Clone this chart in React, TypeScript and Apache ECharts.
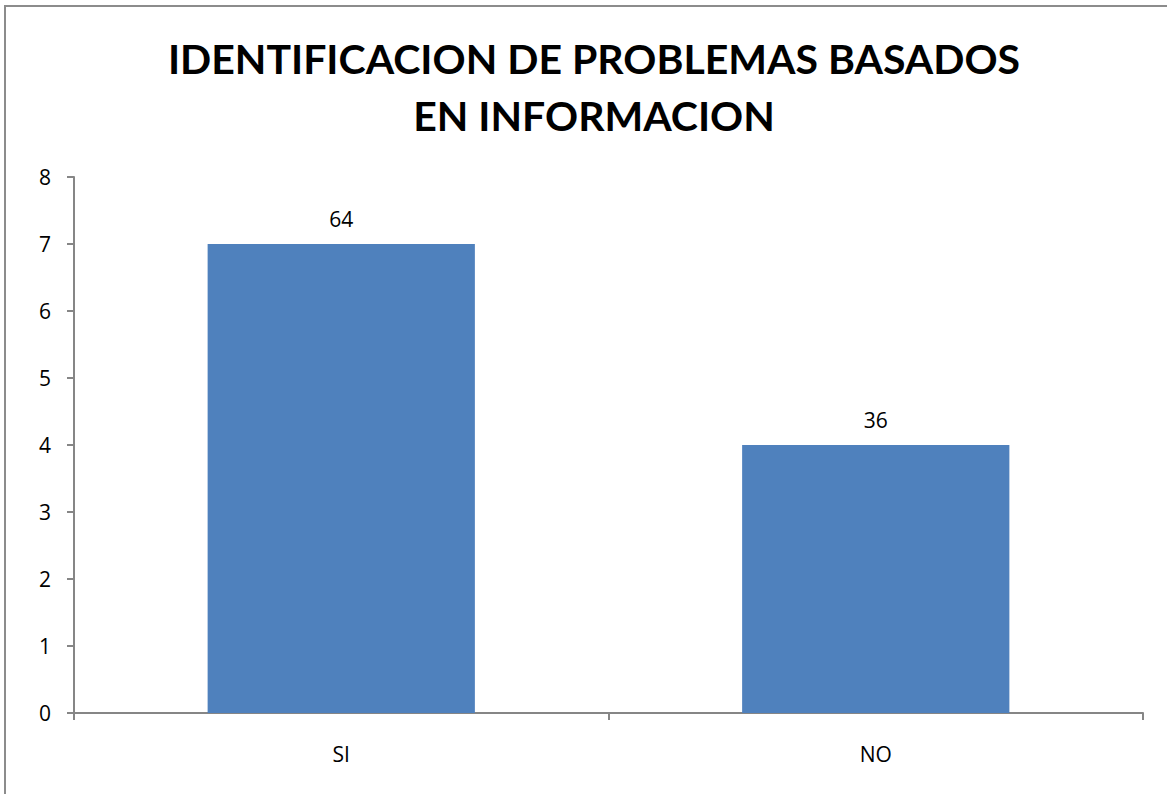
import React, { useEffect, useRef } from "react";
import * as echarts from "echarts";

const categories = ["SI", "NO"];
const counts = [7, 4];
const percents = ["64", "36"];
const yTicks = [0, 1, 2, 3, 4, 5, 6, 7, 8];
const titleLines = ["IDENTIFICACION DE PROBLEMAS BASADOS", "EN INFORMACION"];

export default function App() {
  const ref = useRef<HTMLDivElement>(null);
  useEffect(() => {
    const chart = echarts.init(ref.current!, undefined, { renderer: "svg" });
    chart.setOption({
      animation: false,
      backgroundColor: "#ffffff",
      title: {
        text: titleLines.join("\n"),
        left: 589,
        textAlign: "center",
        top: 25,
        textStyle: {
          fontFamily: "Lato",
          fontWeight: "bold",
          fontSize: 41,
          lineHeight: 57,
          color: "#000000",
        },
      },
      graphic: [
        {
          type: "rect",
          shape: { x: 5, y: 6, width: 1200, height: 900 },
          style: { fill: "none", stroke: "#8c8c8c", lineWidth: 2 },
          silent: true,
        },
      ],
      grid: { left: 74, right: 24, top: 177, bottom: 81 },
      xAxis: {
        type: "category",
        data: categories,
        axisLine: { lineStyle: { color: "#868686", width: 2 } },
        axisTick: { show: true, length: 7, lineStyle: { color: "#868686", width: 2 } },
        axisLabel: { color: "#000", fontSize: 21, fontFamily: "Open Sans", margin: 30 },
      },
      yAxis: {
        type: "value",
        min: 0,
        max: 8,
        interval: 1,
        axisLine: { show: true, lineStyle: { color: "#868686", width: 2 } },
        axisTick: { show: true, length: 7, lineStyle: { color: "#868686", width: 2 } },
        splitLine: { show: false },
        axisLabel: {
          color: "#000",
          fontSize: 21,
          fontFamily: "Open Sans",
          margin: 23,
          formatter: (v: number) => (yTicks.includes(v) ? String(v) : ""),
        },
      },
      series: [
        {
          type: "bar",
          data: counts,
          barWidth: "50%",
          itemStyle: { color: "#4f81bd" },
          label: {
            show: true,
            position: "top",
            distance: 15,
            color: "#000",
            fontSize: 21,
            fontFamily: "Open Sans",
            formatter: (p: any) => percents[p.dataIndex],
          },
        },
      ],
    });
    return () => chart.dispose();
  }, []);
  return (
    <div
      ref={ref}
      style={{ position: "fixed", left: 0, top: 0, width: 1167, height: 794 }}
    />
  );
}
